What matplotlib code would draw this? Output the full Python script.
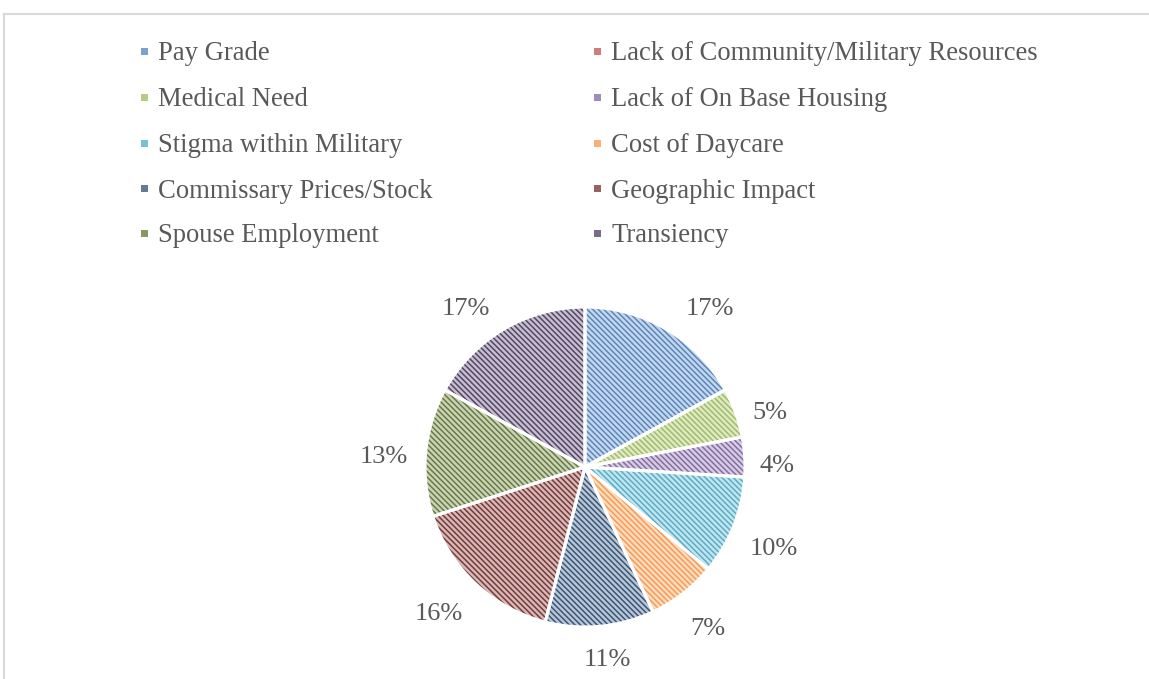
import numpy as np
import matplotlib
matplotlib.use("Agg")
import matplotlib.pyplot as plt
from matplotlib.patches import Rectangle
from matplotlib.lines import Line2D
from matplotlib.colors import to_rgb

categories = [
    "Pay Grade",
    "Lack of Community/Military Resources",
    "Medical Need",
    "Lack of On Base Housing",
    "Stigma within Military",
    "Cost of Daycare",
    "Commissary Prices/Stock",
    "Geographic Impact",
    "Spouse Employment",
    "Transiency",
]
shares = [17, 0, 5, 4, 10, 7, 11, 16, 13, 17]
colors = ["#4F81BD", "#C0504D", "#9BBB59", "#8064A2", "#4BACC6",
          "#F79646", "#2C4D75", "#772C2A", "#5F7530", "#4D3B62"]

# small pixel nudges for the percentage labels (dx right, dy down)
label_nudge = [(21, 17), (0, 0), (-6, 15), (-11, 12), (0, 7),
               (-2, 1), (3, -9), (-7, -1), (1, 9), (-15, 17)]

plt.rcParams["font.family"] = ["Liberation Serif", "DejaVu Serif"]
plt.rcParams["hatch.linewidth"] = 1.1
text_color = "#595959"

W, H = 1149, 679
fig = plt.figure(figsize=(W / 100, H / 100), dpi=100)

# chart-area frame
frame_kw = dict(color="#D9D9D9", lw=1.5, transform=fig.transFigure)
fig.add_artist(Line2D([4 / W, 1.0], [1 - 14 / H] * 2, **frame_kw))
fig.add_artist(Line2D([4 / W] * 2, [0, 1 - 14 / H], **frame_kw))


def tint(c, amount):
    r, g, b = to_rgb(c)
    return (r + (1 - r) * amount, g + (1 - g) * amount, b + (1 - b) * amount)


# pie axes: centre (585, 467) px, radius ~158 px
cx, cy, half = 585, 467, 200
ax = fig.add_axes([(cx - half) / W, (H - cy - half) / H, 2 * half / W, 2 * half / H])
ax.set_xlim(-1.27, 1.27)
ax.set_ylim(-1.27, 1.27)
ax.set_aspect("equal")
ax.axis("off")
px = 2 * 1.27 / (2 * half)  # data units per pixel

wedges, _ = ax.pie(
    shares, colors=[tint(c, 0.68) for c in colors], startangle=90,
    counterclock=False, radius=1.0,
    wedgeprops=dict(linewidth=0),
)
for w, c in zip(wedges, colors):
    w.set_hatch("\\" * 6)
    w.set_edgecolor(tint(c, 0.05))
    w.set_linewidth(0)

# white separators between slices
ax.pie(
    shares, colors=["none"] * len(shares), startangle=90, counterclock=False,
    radius=1.0, wedgeprops=dict(linewidth=2.2, edgecolor="white", fill=False),
)

for w, v, (dx, dy) in zip(wedges, shares, label_nudge):
    if v == 0:
        continue
    mid = np.deg2rad((w.theta1 + w.theta2) / 2)
    r = 1.27
    ax.text(r * np.cos(mid) + dx * px, r * np.sin(mid) - dy * px, f"{v}%",
            ha="center", va="center", fontsize=19, color=text_color)

# legend: two columns, row-major order
col_x = [144, 597]
row_y = [51, 97, 143, 188, 233]
sq = 7
for i, (name, c) in enumerate(zip(categories, colors)):
    x = col_x[i % 2]
    y = row_y[i // 2]
    fig.add_artist(Rectangle(((x - sq / 2) / W, (H - y - sq / 2) / H), sq / W, sq / H,
                             facecolor=tint(c, 0.25), edgecolor="none",
                             transform=fig.transFigure))
    fig.text((x + 14) / W, (H - y) / H, name, ha="left", va="center_baseline",
             fontsize=19.2, color=text_color)

fig.savefig("out.png", dpi=100, facecolor="white")
